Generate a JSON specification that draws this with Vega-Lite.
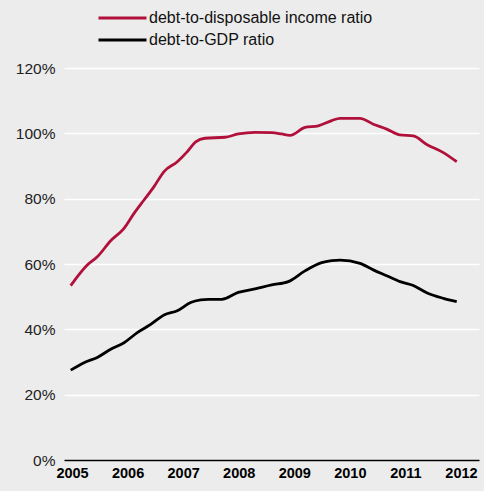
{
  "$schema": "https://vega.github.io/schema/vega-lite/v6.json",
  "autosize": {"type": "none"},
  "padding": {"left": 64, "top": 68, "right": 5, "bottom": 31},
  "width": 415,
  "height": 392,
  "background": "#ececec",
  "config": {
    "view": {"stroke": null},
    "font": "Liberation Sans"
  },
  "data": {
    "values": [
      {"t": 2004.977, "v": 53.4, "s": "debt-to-disposable income ratio"},
      {"t": 2005.275, "v": 59.7, "s": "debt-to-disposable income ratio"},
      {"t": 2005.455, "v": 62.2, "s": "debt-to-disposable income ratio"},
      {"t": 2005.696, "v": 67.1, "s": "debt-to-disposable income ratio"},
      {"t": 2005.936, "v": 70.9, "s": "debt-to-disposable income ratio"},
      {"t": 2006.116, "v": 75.5, "s": "debt-to-disposable income ratio"},
      {"t": 2006.296, "v": 79.6, "s": "debt-to-disposable income ratio"},
      {"t": 2006.476, "v": 83.7, "s": "debt-to-disposable income ratio"},
      {"t": 2006.656, "v": 88.3, "s": "debt-to-disposable income ratio"},
      {"t": 2006.895, "v": 91.3, "s": "debt-to-disposable income ratio"},
      {"t": 2007.075, "v": 94.4, "s": "debt-to-disposable income ratio"},
      {"t": 2007.226, "v": 97.4, "s": "debt-to-disposable income ratio"},
      {"t": 2007.393, "v": 98.5, "s": "debt-to-disposable income ratio"},
      {"t": 2007.753, "v": 98.8, "s": "debt-to-disposable income ratio"},
      {"t": 2007.993, "v": 99.8, "s": "debt-to-disposable income ratio"},
      {"t": 2008.293, "v": 100.3, "s": "debt-to-disposable income ratio"},
      {"t": 2008.594, "v": 100.2, "s": "debt-to-disposable income ratio"},
      {"t": 2008.774, "v": 99.8, "s": "debt-to-disposable income ratio"},
      {"t": 2008.923, "v": 99.4, "s": "debt-to-disposable income ratio"},
      {"t": 2009.193, "v": 101.8, "s": "debt-to-disposable income ratio"},
      {"t": 2009.432, "v": 102.3, "s": "debt-to-disposable income ratio"},
      {"t": 2009.673, "v": 103.9, "s": "debt-to-disposable income ratio"},
      {"t": 2009.823, "v": 104.6, "s": "debt-to-disposable income ratio"},
      {"t": 2010.183, "v": 104.6, "s": "debt-to-disposable income ratio"},
      {"t": 2010.422, "v": 102.8, "s": "debt-to-disposable income ratio"},
      {"t": 2010.663, "v": 101.3, "s": "debt-to-disposable income ratio"},
      {"t": 2010.903, "v": 99.5, "s": "debt-to-disposable income ratio"},
      {"t": 2011.142, "v": 99.2, "s": "debt-to-disposable income ratio"},
      {"t": 2011.383, "v": 96.6, "s": "debt-to-disposable income ratio"},
      {"t": 2011.682, "v": 94.1, "s": "debt-to-disposable income ratio"},
      {"t": 2011.923, "v": 91.3, "s": "debt-to-disposable income ratio"},
      {"t": 2004.977, "v": 27.5, "s": "debt-to-GDP ratio"},
      {"t": 2005.216, "v": 29.8, "s": "debt-to-GDP ratio"},
      {"t": 2005.455, "v": 31.4, "s": "debt-to-GDP ratio"},
      {"t": 2005.696, "v": 33.9, "s": "debt-to-GDP ratio"},
      {"t": 2005.936, "v": 35.9, "s": "debt-to-GDP ratio"},
      {"t": 2006.175, "v": 39.0, "s": "debt-to-GDP ratio"},
      {"t": 2006.416, "v": 41.5, "s": "debt-to-GDP ratio"},
      {"t": 2006.656, "v": 44.4, "s": "debt-to-GDP ratio"},
      {"t": 2006.895, "v": 45.7, "s": "debt-to-GDP ratio"},
      {"t": 2007.136, "v": 48.2, "s": "debt-to-GDP ratio"},
      {"t": 2007.316, "v": 49.0, "s": "debt-to-GDP ratio"},
      {"t": 2007.453, "v": 49.2, "s": "debt-to-GDP ratio"},
      {"t": 2007.694, "v": 49.2, "s": "debt-to-GDP ratio"},
      {"t": 2007.993, "v": 51.3, "s": "debt-to-GDP ratio"},
      {"t": 2008.293, "v": 52.4, "s": "debt-to-GDP ratio"},
      {"t": 2008.594, "v": 53.6, "s": "debt-to-GDP ratio"},
      {"t": 2008.892, "v": 54.6, "s": "debt-to-GDP ratio"},
      {"t": 2009.193, "v": 57.9, "s": "debt-to-GDP ratio"},
      {"t": 2009.493, "v": 60.4, "s": "debt-to-GDP ratio"},
      {"t": 2009.673, "v": 61.0, "s": "debt-to-GDP ratio"},
      {"t": 2009.823, "v": 61.2, "s": "debt-to-GDP ratio"},
      {"t": 2010.183, "v": 60.2, "s": "debt-to-GDP ratio"},
      {"t": 2010.422, "v": 58.2, "s": "debt-to-GDP ratio"},
      {"t": 2010.663, "v": 56.4, "s": "debt-to-GDP ratio"},
      {"t": 2010.903, "v": 54.6, "s": "debt-to-GDP ratio"},
      {"t": 2011.142, "v": 53.4, "s": "debt-to-GDP ratio"},
      {"t": 2011.383, "v": 51.2, "s": "debt-to-GDP ratio"},
      {"t": 2011.682, "v": 49.5, "s": "debt-to-GDP ratio"},
      {"t": 2011.923, "v": 48.5, "s": "debt-to-GDP ratio"}
    ]
  },
  "mark": {"type": "line", "interpolate": "monotone", "strokeWidth": 2.8},
  "encoding": {
    "x": {
      "field": "t",
      "type": "quantitative",
      "scale": {"domain": [2004.856, 2012.324], "nice": false, "zero": false},
      "axis": {
        "title": null,
        "values": [2005, 2006, 2007, 2008, 2009, 2010, 2011, 2012],
        "format": "d",
        "ticks": false,
        "grid": false,
        "domain": true,
        "domainColor": "#000000",
        "domainWidth": 1.5,
        "zindex": 1,
        "labelFontSize": 14.5,
        "labelFontWeight": "bold",
        "labelColor": "#000000",
        "labelPadding": 6,
        "labelFlush": false
      }
    },
    "y": {
      "field": "v",
      "type": "quantitative",
      "scale": {"domain": [0, 120], "nice": false},
      "axis": {
        "title": null,
        "values": [0, 20, 40, 60, 80, 100, 120],
        "labelExpr": "datum.value + '%'",
        "ticks": false,
        "domain": false,
        "grid": true,
        "gridColor": "#ffffff",
        "gridWidth": 1.5,
        "labelFontSize": 15.5,
        "labelColor": "#222222",
        "labelPadding": 9
      }
    },
    "color": {
      "field": "s",
      "type": "nominal",
      "scale": {
        "domain": ["debt-to-disposable income ratio", "debt-to-GDP ratio"],
        "range": ["#b0103a", "#000000"]
      },
      "legend": {
        "title": null,
        "orient": "none",
        "legendX": 33,
        "legendY": -61,
        "symbolType": "stroke",
        "symbolSize": 2304,
        "symbolStrokeWidth": 3,
        "clipHeight": 22,
        "rowPadding": 0,
        "labelFontSize": 16,
        "labelLimit": 0,
        "labelColor": "#111111",
        "labelOffset": 1,
        "padding": 0
      }
    }
  }
}
